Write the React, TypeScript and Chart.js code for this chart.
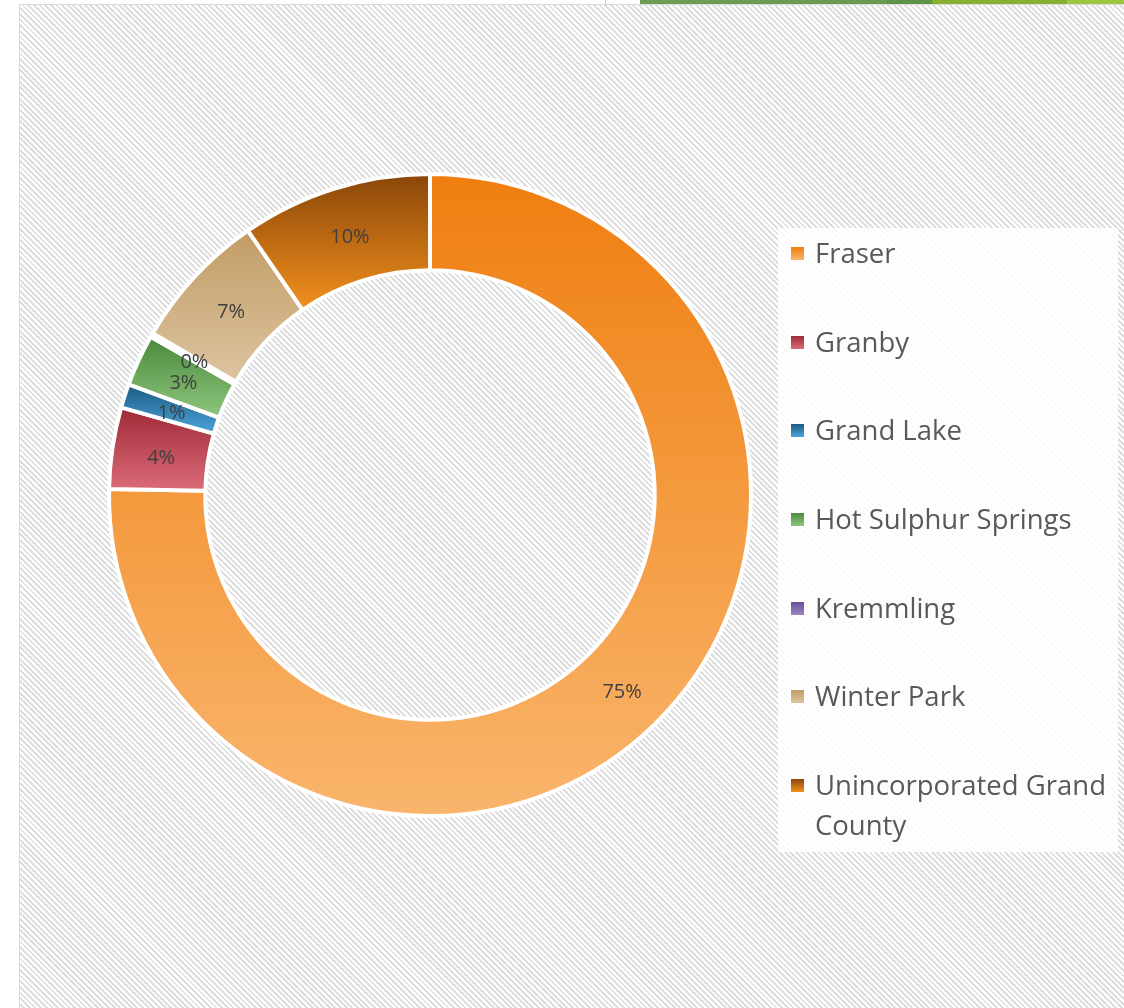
import React, { useEffect, useRef } from "react";
import { Chart, registerables } from "chart.js";

Chart.register(...registerables);

const categories = [
  "Fraser",
  "Granby",
  "Grand Lake",
  "Hot Sulphur Springs",
  "Kremmling",
  "Winter Park",
  "Unincorporated Grand County",
];
const shares = [75.3, 4.1, 1.2, 2.6, 0.2, 7.0, 9.6];
const pctLabels = ["75%", "4%", "1%", "3%", "0%", "7%", "10%"];
const topColors = ["#ef7e10", "#9e2a36", "#1d5a82", "#4a8a3c", "#6a4f9a", "#c29c66", "#8a4608"];
const bottomColors = ["#f9b56c", "#dc6b7a", "#4ba5dc", "#8fc57e", "#9a86c2", "#dcc4a0", "#f2901e"];

const CUTOUT = 0.7;
const BORDER = 4;
const FONT = "'Open Sans', 'DejaVu Sans', sans-serif";

function arcGradient(c: any) {
  const chart = c.chart;
  const area = chart.chartArea;
  const i = c.dataIndex;
  if (!area || i === undefined) return topColors[i || 0];
  const cx = (area.left + area.right) / 2;
  const cy = (area.top + area.bottom) / 2;
  const R = (Math.min(area.width, area.height) - BORDER) / 2;
  const r = R * CUTOUT;
  const total = shares.reduce((a, b) => a + b, 0);
  let cum = 0;
  for (let k = 0; k < i; k++) cum += shares[k];
  const a0 = -Math.PI / 2 + (2 * Math.PI * cum) / total;
  const a1 = a0 + (2 * Math.PI * shares[i]) / total;
  let minY = Infinity;
  let maxY = -Infinity;
  for (let s = 0; s <= 64; s++) {
    const a = a0 + ((a1 - a0) * s) / 64;
    for (const rad of [R, r]) {
      const y = cy + rad * Math.sin(a);
      if (y < minY) minY = y;
      if (y > maxY) maxY = y;
    }
  }
  if (maxY - minY < 1) maxY = minY + 1;
  const g = chart.ctx.createLinearGradient(0, minY, 0, maxY);
  g.addColorStop(0, topColors[i]);
  g.addColorStop(1, bottomColors[i]);
  return g;
}

const labelPlugin = {
  id: "pctLabels",
  afterDatasetsDraw(chart: any) {
    const ctx = chart.ctx;
    const meta = chart.getDatasetMeta(0);
    ctx.save();
    ctx.font = `20px ${FONT}`;
    ctx.fillStyle = "#404040";
    ctx.textAlign = "center";
    ctx.textBaseline = "middle";
    meta.data.forEach((arc: any, i: number) => {
      const p = arc.getCenterPoint();
      ctx.fillText(pctLabels[i], p.x + 1, p.y + 3);
    });
    ctx.restore();
  },
};

export default function App() {
  const canvasRef = useRef<HTMLCanvasElement | null>(null);

  useEffect(() => {
    if (!canvasRef.current) return;
    const chart = new Chart(canvasRef.current, {
      type: "doughnut",
      data: {
        labels: categories,
        datasets: [
          {
            data: shares,
            backgroundColor: arcGradient as any,
            borderColor: "#ffffff",
            borderWidth: BORDER,
          },
        ],
      },
      options: {
        responsive: false,
        animation: false,
        devicePixelRatio: 1,
        cutout: `${CUTOUT * 100}%`,
        layout: { padding: { left: 107, right: 371, top: 172, bottom: 190 } },
        plugins: {
          legend: { display: false },
          tooltip: { enabled: false },
        },
      },
      plugins: [labelPlugin],
    });
    return () => chart.destroy();
  }, []);

  const itemTops = [253, 342, 430, 519, 608, 696, 785];

  return (
    <div
      style={{
        position: "absolute",
        left: 0,
        top: 0,
        width: 1124,
        height: 1008,
        background: "#ffffff",
        overflow: "hidden",
        fontFamily: FONT,
      }}
    >
      <div
        style={{
          position: "absolute",
          left: 640,
          top: 0,
          width: 484,
          height: 4,
          background:
            "linear-gradient(to right, #6f9d52 0px, #6a9a4e 247px, #5e9446 247px, #5e9446 292px, #86b030 292px, #86b030 427px, #9cc540 427px)",
        }}
      />
      <div style={{ position: "absolute", left: 605, top: 0, width: 1, height: 5, background: "#c8c8c8" }} />
      <div
        style={{
          position: "absolute",
          left: 19,
          top: 4,
          width: 1120,
          height: 1020,
          borderLeft: "1px solid #d9d9d9",
          borderTop: "1px solid #d9d9d9",
          background: "repeating-linear-gradient(45deg, #ffffff 0px, #ffffff 2px, #dedede 2px, #dedede 4px)",
        }}
      />
      <canvas
        ref={canvasRef}
        width={1124}
        height={1008}
        style={{ position: "absolute", left: 0, top: 0, width: 1124, height: 1008 }}
      />
      <div
        style={{
          position: "absolute",
          left: 778,
          top: 228,
          width: 340,
          height: 624,
          background: "rgba(255,255,255,0.88)",
        }}
      />
      {categories.map((name, i) => (
        <div
          key={name}
          style={{
            position: "absolute",
            left: 791,
            top: itemTops[i] - 20,
            width: 332,
            display: "flex",
            alignItems: "flex-start",
          }}
        >
          <div
            style={{
              width: 13,
              height: 13,
              marginTop: 14,
              flex: "0 0 13px",
              background: `linear-gradient(to bottom, ${topColors[i]}, ${bottomColors[i]})`,
            }}
          />
          <div
            style={{
              marginLeft: 11,
              width: 306,
              fontSize: 27.5,
              lineHeight: "40px",
              color: "#595959",
            }}
          >
            {name}
          </div>
        </div>
      ))}
    </div>
  );
}
